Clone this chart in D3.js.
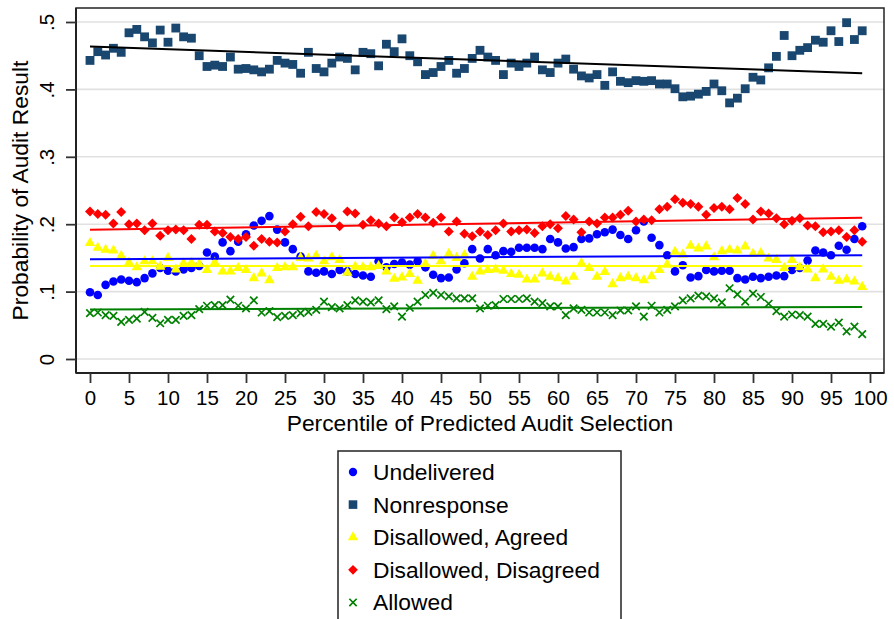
<!DOCTYPE html>
<html>
<head>
<meta charset="utf-8">
<script src="https://cdn.jsdelivr.net/npm/d3@7"></script>
<style>
  body { margin: 0; background: #fff; }
  svg { display: block; font-family: "Liberation Sans", Arial, Helvetica, sans-serif; }
</style>
</head>
<body>
<script>
// percentile bins on the x axis
const percentiles = d3.range(100);

const xTicks = [0, 5, 10, 15, 20, 25, 30, 35, 40, 45, 50, 55, 60, 65, 70, 75, 80, 85, 90, 95, 100];
const yTicks = [0, 0.1, 0.2, 0.3, 0.4, 0.5];
const yTickLabels = ["0", ".1", ".2", ".3", ".4", ".5"];

const undelivered = [
  .099,.095,.110,.115,.118,.116,.114,.120,.127,.135,.131,.130,.133,.135,.138,.158,.152,.173,.160,.174,.185,.198,.205,.212,.192,
  .173,.163,.152,.130,.128,.130,.126,.132,.130,.126,.124,.122,.145,.136,.141,.143,.140,.145,.136,.125,.120,.121,.133,.142,.163,.149,
  .163,.154,.160,.159,.165,.165,.165,.163,.178,.173,.164,.166,.178,.179,.185,.188,.192,.184,.178,.191,.204,.180,.169,.154,.130,.139,
  .121,.123,.132,.130,.131,.131,.120,.118,.122,.120,.122,.124,.123,.132,.135,.146,.161,.158,.154,.168,.162,.178,.197
];

const nonresponse = [
  .443,.456,.451,.461,.455,.484,.489,.478,.469,.488,.470,.491,.478,.476,.450,.434,.436,.434,.448,.430,.431,.429,.426,.430,.443,.439,.437,.424,.455,.431,.426,.439,.448,
  .446,.429,.455,.453,.435,.467,.456,.475,.450,.441,.422,.425,.434,.443,.424,.431,.446,.458,.448,.443,.422,.439,.434,.439,.448,.429,.425,.439,.445,.430,.420,.417,.422,.406,
  .426,.412,.410,.413,.412,.413,.408,.408,.401,.389,.390,.393,.397,.408,.398,.380,.387,.401,.418,.414,.432,.449,.480,.450,.458,.462,.473,.470,.487,.471,.499,.474,.487
];

const agreed = [
  .172,.165,.162,.161,.153,.143,.136,.145,.145,.137,.150,.133,.142,.143,.141,.132,.143,.130,.130,.135,.132,.120,.127,.117,.135,
  .136,.136,.150,.149,.153,.145,.151,.147,.128,.137,.136,.136,.138,.130,.119,.121,.126,.116,.141,.153,.145,.156,.150,.154,.122,.130,
  .132,.133,.131,.126,.125,.118,.118,.127,.122,.120,.115,.122,.142,.135,.122,.129,.111,.120,.122,.120,.117,.123,.132,.140,.159,.155,
  .168,.164,.167,.151,.160,.162,.161,.167,.156,.157,.149,.147,.135,.147,.136,.133,.120,.133,.122,.116,.118,.115,.107
];

const disagreed = [
  .219,.215,.214,.201,.218,.200,.201,.191,.201,.183,.191,.192,.191,.178,.199,.199,.189,.187,.181,.178,.181,.168,.178,.174,.173,
  .189,.200,.211,.197,.218,.215,.209,.197,.219,.216,.199,.206,.201,.197,.210,.203,.210,.215,.210,.202,.210,.189,.204,.186,.182,.189,
  .184,.191,.201,.189,.191,.192,.187,.197,.200,.194,.212,.207,.188,.204,.201,.210,.210,.214,.220,.204,.207,.206,.222,.226,.237,.232,
  .230,.226,.214,.224,.226,.222,.239,.230,.207,.219,.216,.209,.200,.205,.209,.198,.197,.188,.189,.191,.181,.191,.174
];

const allowed = [
  .068,.069,.065,.064,.055,.058,.060,.070,.061,.053,.058,.058,.064,.065,.074,.079,.080,.080,.088,.079,.075,.087,.069,.071,.062,
  .064,.065,.068,.070,.073,.085,.077,.075,.080,.087,.085,.084,.087,.074,.078,.063,.076,.085,.095,.098,.095,.093,.090,.090,.090,.075,
  .079,.080,.089,.089,.089,.090,.085,.083,.078,.078,.065,.075,.073,.069,.069,.069,.065,.072,.072,.078,.063,.079,.069,.073,.078,.087,
  .090,.094,.093,.090,.084,.105,.096,.085,.097,.092,.082,.071,.063,.066,.065,.063,.052,.052,.048,.054,.041,.048,.037
];

// fitted-line values at the first and last percentile
// order: undelivered, nonresponse, agreed, disagreed, allowed
const fitStart = [0.148, 0.4636, 0.138, 0.1917, 0.0734];
const fitEnd   = [0.154, 0.424,  0.138, 0.2095, 0.0773];

const W = 894, H = 619;

// x cross marker (stroked)
const symbolCross = {
  draw (ctx, size) {
    const r = Math.sqrt(size) / 2;
    ctx.moveTo(-r, -r); ctx.lineTo(r, r);
    ctx.moveTo(-r, r); ctx.lineTo(r, -r);
  }
};

const series = [
  {name: "Undelivered", values: undelivered, color: "#0000ff", fit: "#0000ff", type: d3.symbolCircle, size: 58, rot: 0},
  {name: "Nonresponse", values: nonresponse, color: "#1a476f", fit: "#000000", type: d3.symbolSquare, size: 78, rot: 0},
  {name: "Disallowed, Agreed", values: agreed, color: "#ffff00", fit: "#ffff00", type: d3.symbolTriangle, size: 48, rot: 0},
  {name: "Disallowed, Disagreed", values: disagreed, color: "#ff0000", fit: "#ff0000", type: d3.symbolSquare, size: 50, rot: 45},
  {name: "Allowed", values: allowed, color: "#008000", fit: "#008000", type: symbolCross, size: 56, rot: 0, stroke: true},
];

const x = d3.scaleLinear().domain([0, 100]).range([90, 870]);
const y = d3.scaleLinear().domain([0, 0.5]).range([359, 22]);

const svg = d3.select("body").append("svg")
    .attr("width", W)
    .attr("height", H);

// plot region box
const box = {left: 76, right: 884, top: 8, bottom: 373};

svg.append("g")
  .selectAll("line")
  .data(yTicks).enter()
  .append("line")
    .attr("x1", box.left).attr("x2", box.right)
    .attr("y1", d => y(d)).attr("y2", d => y(d))
    .attr("stroke", "#e1e1e1")
    .attr("stroke-width", 1.6);

svg.append("rect")
    .attr("x", box.left).attr("y", box.top)
    .attr("width", box.right - box.left).attr("height", box.bottom - box.top)
    .attr("fill", "none")
    .attr("stroke", "#222")
    .attr("stroke-width", 1.5);

// y axis
const yAxis = svg.append("g")
    .attr("transform", `translate(${box.left},0)`)
    .call(d3.axisLeft(y).tickValues(yTicks).tickSize(10).tickFormat((d, i) => yTickLabels[i]));
yAxis.select(".domain").attr("d", `M0,${box.top}V${box.bottom}`).attr("stroke", "#222").attr("stroke-width", 2);
yAxis.selectAll(".tick line").attr("stroke", "#333").attr("stroke-width", 1.8);
yAxis.selectAll(".tick text")
    .attr("x", null).attr("dy", null)
    .attr("transform", "translate(-22,0) rotate(-90)")
    .attr("text-anchor", "middle")
    .attr("fill", "#000")
    .style("font-size", "20.5px");

// x axis
const xAxis = svg.append("g")
    .attr("transform", `translate(0,${box.bottom})`)
    .call(d3.axisBottom(x).tickValues(xTicks).tickSize(10).tickFormat(d3.format("d")));
xAxis.select(".domain").attr("d", `M${box.left},0H${box.right}`).attr("stroke", "#222").attr("stroke-width", 2);
xAxis.selectAll(".tick line").attr("stroke", "#333").attr("stroke-width", 1.8);
xAxis.selectAll(".tick text")
    .attr("y", 32).attr("dy", null)
    .attr("fill", "#000")
    .style("font-size", "20.5px");

svg.append("text")
    .attr("transform", `translate(28,${(box.top + box.bottom) / 2}) rotate(-90)`)
    .attr("text-anchor", "middle")
    .style("font-size", "22.8px")
    .text("Probability of Audit Result");

svg.append("text")
    .attr("x", (box.left + box.right) / 2)
    .attr("y", 431)
    .attr("text-anchor", "middle")
    .style("font-size", "22.8px")
    .text("Percentile of Predicted Audit Selection");

function markerPath (s) {
  return d3.symbol().type(s.type).size(s.size)();
}

// scatter points
series.forEach(s => {
  svg.append("g")
    .selectAll("path")
    .data(s.values).enter()
    .append("path")
      .attr("d", markerPath(s))
      .attr("transform", (d, i) => `translate(${x(percentiles[i])},${y(d)}) rotate(${s.rot})`)
      .attr("fill", s.stroke ? "none" : s.color)
      .attr("stroke", s.stroke ? s.color : "none")
      .attr("stroke-width", s.stroke ? 1.7 : 0);
});

// fitted lines across the percentile range
const line = d3.line().x(d => x(d[0])).y(d => y(d[1]));
const ends = d3.extent(percentiles);

series.forEach((s, k) => {
  svg.append("path")
    .attr("d", line([[ends[0], fitStart[k]], [ends[1], fitEnd[k]]]))
    .attr("fill", "none")
    .attr("stroke", s.fit)
    .attr("stroke-width", 2);
});

// legend
const legend = svg.append("g");
legend.append("rect")
    .attr("x", 338).attr("y", 451)
    .attr("width", 283).attr("height", 200)
    .attr("fill", "#fff")
    .attr("stroke", "#222")
    .attr("stroke-width", 1.5);

const rows = legend.selectAll("g.row")
  .data(series).enter()
  .append("g")
    .attr("class", "row")
    .attr("transform", (d, i) => `translate(0,${472 + i * 32.6})`);

rows.append("path")
    .attr("d", s => d3.symbol().type(s.type).size(s.size * 0.95)())
    .attr("transform", s => `translate(353,0) rotate(${s.rot})`)
    .attr("fill", s => s.stroke ? "none" : s.color)
    .attr("stroke", s => s.stroke ? s.color : "none")
    .attr("stroke-width", s => s.stroke ? 1.7 : 0);

rows.append("text")
    .attr("x", 373)
    .attr("y", 8)
    .style("font-size", "22.8px")
    .text(s => s.name);
</script>
</body>
</html>
